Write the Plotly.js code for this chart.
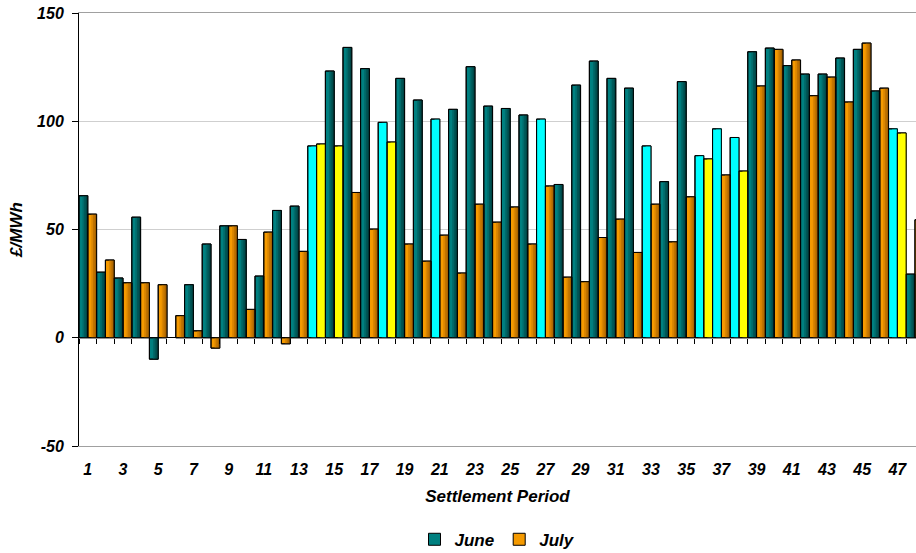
<!DOCTYPE html>
<html>
<head>
<meta charset="utf-8">
<script src="https://cdn.plot.ly/plotly-3.0.1.min.js"></script>
<style>html,body{margin:0;padding:0;background:#fff;}#chart{width:916px;height:553px;}</style>
</head>
<body>
<div id="chart"></div>
<script>
// Settlement periods
const periods = [1,2,3,4,5,6,7,8,9,10,11,12,13,14,15,16,17,18,19,20,21,22,23,24,25,26,27,28,29,30,31,32,33,34,35,36,37,38,39,40,41,42,43,44,45,46,47,48];
// June prices (£/MWh)
const june = [65.6,30.3,27.6,55.7,-9.9,null,24.5,43.3,51.7,45.4,28.5,58.8,60.8,88.6,123.2,134.1,124.3,99.5,119.8,109.8,101.0,105.5,125.2,107.0,105.9,102.9,101.0,70.8,116.7,127.8,119.8,115.3,88.6,72.1,118.3,84.1,96.5,92.5,132.1,133.8,125.7,121.8,121.8,129.2,133.2,114.0,96.5,29.4];
// July prices (£/MWh)
const july = [57.1,35.9,25.4,25.4,24.5,10.2,3.2,-4.8,51.7,13.1,48.8,-2.8,39.9,89.5,88.6,67.1,50.2,90.4,43.3,35.4,47.4,29.9,61.7,53.4,60.4,43.3,70.1,28.0,25.9,46.3,54.8,39.4,61.7,44.3,65.1,82.6,75.2,77.0,116.3,133.2,128.3,111.8,120.4,108.9,136.1,115.3,94.6,54.5];
// Highlighted periods
const juneHighlight = [14,18,21,27,33,36,37,38,47];
const julyHighlight = [14,15,18,36,38,47];
// Tick labels
const tickPeriods = periods.filter(p => p % 2 === 1);
const tickLabels = tickPeriods.map(String);
const yTicks = [-50,0,50,100,150];
const yTickLabels = ['-50','0','50','100','150'];

// Colour shades (left -> right) for the bar gradient
const TEAL = ['#008080', '#006b6b', '#005656', '#004545'];
const ORANGE = ['#f59a00', '#db8600', '#c07300', '#a56200'];
const CYAN = '#00ffff', YELLOW = '#ffff00';

const font = {family: 'Liberation Sans, Arial, sans-serif', weight: 'bold', style: 'italic', color: '#000'};

function colorsFor(highlight, hiColor, shade) {
  return periods.map(p => highlight.includes(p) ? hiColor : shade);
}

function seriesTraces(name, values, highlight, hiColor, shades, baseOffset) {
  const w = 0.5;
  const base = {type: 'bar', name: name, x: periods, y: values, offset: baseOffset, width: w,
    marker: {color: colorsFor(highlight, hiColor, shades[0]), line: {color: '#000', width: 1}}, hoverinfo: 'skip'};
  const layers = [];
  const fr = [0.4, 0.6, 0.8];
  for (let i = 1; i < shades.length; i++) {
    layers.push({type: 'bar', x: periods, y: values, offset: baseOffset + w * fr[i - 1], width: w * (1 - fr[i - 1]),
      marker: {color: colorsFor(highlight, hiColor, shades[i]), line: {width: 0}}, showlegend: false, hoverinfo: 'skip'});
  }
  const outline = {type: 'bar', x: periods, y: values, offset: baseOffset, width: w,
    marker: {color: 'rgba(0,0,0,0)', line: {color: '#000', width: 1}}, showlegend: false, hoverinfo: 'skip'};
  return {base, layers, outline};
}

const J = seriesTraces('June', june, juneHighlight, CYAN, TEAL, -0.5);
const L = seriesTraces('July', july, julyHighlight, YELLOW, ORANGE, 0);

const traces = [J.base, L.base].concat(J.layers, L.layers, [J.outline, L.outline],
  [{type: 'scatter', x: [null], y: [null], xaxis: 'x2', showlegend: false, hoverinfo: 'skip'}]);

const boundaries = periods.map(p => p - 0.5).concat([periods[periods.length - 1] + 0.5]);
const xRange = [0.5, 48.06];

const layout = {
  width: 916, height: 553,
  margin: {l: 79, r: 0, t: 13, b: 107},
  paper_bgcolor: '#fff', plot_bgcolor: '#fff',
  barmode: 'overlay',
  showlegend: true,
  legend: {orientation: 'h', x: 0.5, xanchor: 'center', xref: 'paper', yref: 'container', y: 0.024, yanchor: 'middle',
           font: Object.assign({}, font, {size: 17}), itemwidth: 30, traceorder: 'normal'},
  xaxis: {
    range: xRange, tickvals: tickPeriods, ticktext: tickLabels, ticks: '', showgrid: false, zeroline: false,
    showline: true, linecolor: '#a0a0a0', linewidth: 1, mirror: true,
    tickfont: Object.assign({}, font, {size: 16}), ticklabelstandoff: 9,
    title: {text: 'Settlement Period', font: Object.assign({}, font, {size: 17}), standoff: 12}
  },
  xaxis2: {
    overlaying: 'x', anchor: 'free', position: 0.25, range: xRange, tickvals: boundaries,
    ticks: 'outside', ticklen: 5, tickcolor: '#000', showticklabels: false, showgrid: false,
    showline: false, zeroline: false
  },
  yaxis: {
    range: [-50, 150], tickvals: yTicks, ticktext: yTickLabels, ticks: 'outside', ticklen: 6, tickcolor: '#000',
    showline: true, linecolor: '#000', linewidth: 1, showgrid: true, gridcolor: '#cfcfcf',
    zeroline: true, zerolinecolor: '#000', zerolinewidth: 1,
    tickfont: Object.assign({}, font, {size: 16}), ticklabelstandoff: 5,
    title: {text: '£/MWh', font: Object.assign({}, font, {size: 17}), standoff: 10}
  }
};

Plotly.newPlot('chart', traces, layout, {displayModeBar: false, staticPlot: true});
</script>
</body>
</html>
